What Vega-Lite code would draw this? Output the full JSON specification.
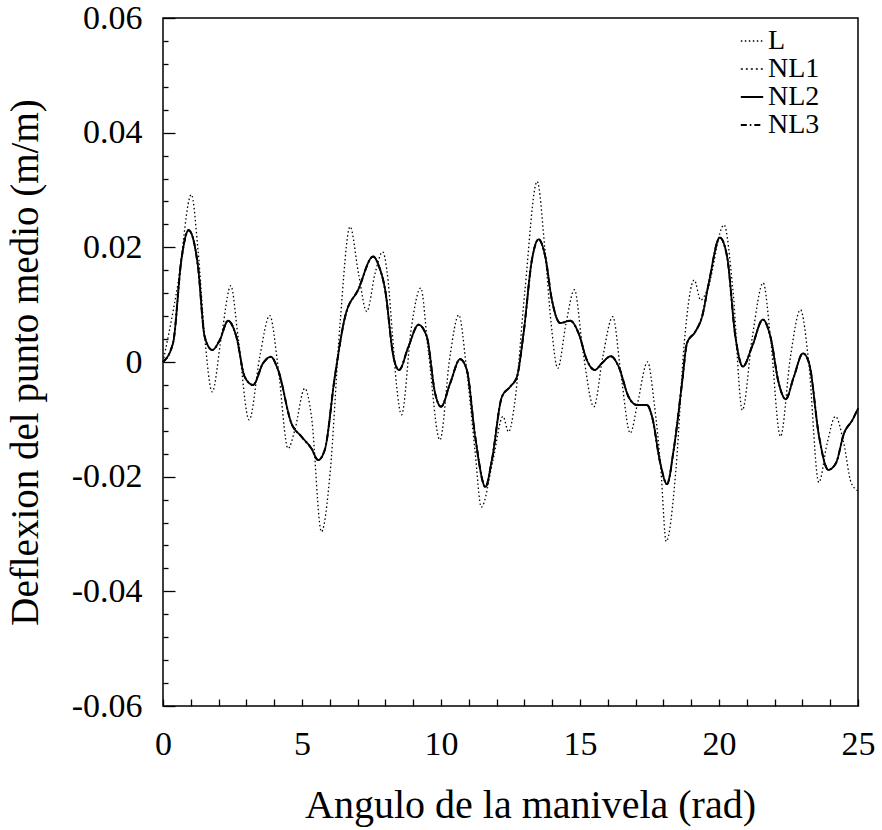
{
  "$schema": "https://vega.github.io/schema/vega-lite/v6.json",
  "width": 695,
  "height": 688,
  "autosize": "none",
  "padding": {"left": 163, "top": 18, "right": 24, "bottom": 124},
  "background": "white",
  "config": {
    "view": {"stroke": "black", "strokeWidth": 1.5},
    "font": "Liberation Serif",
    "axis": {"domain": false, "grid": false, "zindex": 1, "tickColor": "black", "tickWidth": 1.3, "labelColor": "black", "titleColor": "black", "titleFontWeight": "normal", "labelFont": "Liberation Serif", "titleFont": "Liberation Serif", "labelOverlap": false, "labelFlush": false}
  },
  "data": {"values": [
    {"s": "L", "x": 0, "y": 0}, {"s": "L", "x": 0.54, "y": 0.0137}, {"s": "L", "x": 1.02, "y": 0.0292}, {"s": "L", "x": 1.26, "y": 0.0195},
    {"s": "L", "x": 1.5, "y": 0.0044}, {"s": "L", "x": 1.77, "y": -0.0052}, {"s": "L", "x": 2.1, "y": 0.0044}, {"s": "L", "x": 2.44, "y": 0.0133},
    {"s": "L", "x": 2.7, "y": 0.0044}, {"s": "L", "x": 3.1, "y": -0.0101}, {"s": "L", "x": 3.48, "y": 0.0009}, {"s": "L", "x": 3.84, "y": 0.0081},
    {"s": "L", "x": 4.14, "y": -0.0008}, {"s": "L", "x": 4.5, "y": -0.0151}, {"s": "L", "x": 4.74, "y": -0.0119}, {"s": "L", "x": 5.1, "y": -0.0046},
    {"s": "L", "x": 5.34, "y": -0.0095}, {"s": "L", "x": 5.7, "y": -0.0296}, {"s": "L", "x": 6.01, "y": -0.0194}, {"s": "L", "x": 6.37, "y": 0.0068},
    {"s": "L", "x": 6.73, "y": 0.0236}, {"s": "L", "x": 7.03, "y": 0.0155}, {"s": "L", "x": 7.33, "y": 0.0088}, {"s": "L", "x": 7.63, "y": 0.0155},
    {"s": "L", "x": 7.9, "y": 0.0192}, {"s": "L", "x": 8.1, "y": 0.014}, {"s": "L", "x": 8.25, "y": 0.005}, {"s": "L", "x": 8.4, "y": -0.004},
    {"s": "L", "x": 8.58, "y": -0.0092}, {"s": "L", "x": 8.94, "y": 0.0062}, {"s": "L", "x": 9.27, "y": 0.0129}, {"s": "L", "x": 9.54, "y": 0.0021},
    {"s": "L", "x": 9.96, "y": -0.0136}, {"s": "L", "x": 10.32, "y": 0.0009}, {"s": "L", "x": 10.64, "y": 0.0082}, {"s": "L", "x": 10.91, "y": -0.0008},
    {"s": "L", "x": 11.22, "y": -0.0153}, {"s": "L", "x": 11.45, "y": -0.0253}, {"s": "L", "x": 11.87, "y": -0.0171}, {"s": "L", "x": 12.23, "y": -0.0095},
    {"s": "L", "x": 12.43, "y": -0.0122}, {"s": "L", "x": 12.65, "y": -0.0072}, {"s": "L", "x": 13.01, "y": 0.012}, {"s": "L", "x": 13.46, "y": 0.0315},
    {"s": "L", "x": 13.73, "y": 0.0201}, {"s": "L", "x": 13.96, "y": 0.0068}, {"s": "L", "x": 14.2, "y": -0.0011}, {"s": "L", "x": 14.5, "y": 0.0068},
    {"s": "L", "x": 14.8, "y": 0.0126}, {"s": "L", "x": 15.1, "y": 0.0021}, {"s": "L", "x": 15.5, "y": -0.0078}, {"s": "L", "x": 15.82, "y": 0.0009},
    {"s": "L", "x": 16.18, "y": 0.0079}, {"s": "L", "x": 16.47, "y": -0.002}, {"s": "L", "x": 16.81, "y": -0.0124}, {"s": "L", "x": 17.07, "y": -0.0072},
    {"s": "L", "x": 17.43, "y": 0.0}, {"s": "L", "x": 17.67, "y": -0.0072}, {"s": "L", "x": 17.91, "y": -0.0188}, {"s": "L", "x": 18.1, "y": -0.0313},
    {"s": "L", "x": 18.45, "y": -0.0188}, {"s": "L", "x": 18.75, "y": 0.0033}, {"s": "L", "x": 19.11, "y": 0.0143}, {"s": "L", "x": 19.34, "y": 0.0108},
    {"s": "L", "x": 19.58, "y": 0.0126}, {"s": "L", "x": 20.18, "y": 0.0239}, {"s": "L", "x": 20.5, "y": 0.0126}, {"s": "L", "x": 20.84, "y": -0.0084},
    {"s": "L", "x": 21.2, "y": 0.0044}, {"s": "L", "x": 21.59, "y": 0.0138}, {"s": "L", "x": 21.85, "y": 0.0044}, {"s": "L", "x": 22.21, "y": -0.013},
    {"s": "L", "x": 22.57, "y": 0.0009}, {"s": "L", "x": 22.93, "y": 0.0091}, {"s": "L", "x": 23.23, "y": -0.0002}, {"s": "L", "x": 23.59, "y": -0.021},
    {"s": "L", "x": 23.89, "y": -0.0142}, {"s": "L", "x": 24.19, "y": -0.0095}, {"s": "L", "x": 24.49, "y": -0.0142}, {"s": "L", "x": 24.75, "y": -0.021},
    {"s": "L", "x": 25, "y": -0.0225},

    {"s": "NL1", "x": 0, "y": 0}, {"s": "NL1", "x": 0.36, "y": 0.0033}, {"s": "NL1", "x": 0.66, "y": 0.0178}, {"s": "NL1", "x": 0.92, "y": 0.023},
    {"s": "NL1", "x": 1.26, "y": 0.0166}, {"s": "NL1", "x": 1.5, "y": 0.0044}, {"s": "NL1", "x": 1.77, "y": 0.0021}, {"s": "NL1", "x": 2.04, "y": 0.0038},
    {"s": "NL1", "x": 2.34, "y": 0.0072}, {"s": "NL1", "x": 2.64, "y": 0.0044}, {"s": "NL1", "x": 2.94, "y": -0.0026}, {"s": "NL1", "x": 3.24, "y": -0.004},
    {"s": "NL1", "x": 3.6, "y": -0.0002}, {"s": "NL1", "x": 3.88, "y": 0.0009}, {"s": "NL1", "x": 4.14, "y": -0.0014}, {"s": "NL1", "x": 4.62, "y": -0.0107},
    {"s": "NL1", "x": 4.98, "y": -0.013}, {"s": "NL1", "x": 5.34, "y": -0.0151}, {"s": "NL1", "x": 5.58, "y": -0.0171}, {"s": "NL1", "x": 5.82, "y": -0.0153},
    {"s": "NL1", "x": 6.18, "y": -0.0026}, {"s": "NL1", "x": 6.55, "y": 0.0079}, {"s": "NL1", "x": 7.02, "y": 0.0126}, {"s": "NL1", "x": 7.56, "y": 0.0184},
    {"s": "NL1", "x": 7.76, "y": 0.0168}, {"s": "NL1", "x": 7.99, "y": 0.0126}, {"s": "NL1", "x": 8.29, "y": 0.0009}, {"s": "NL1", "x": 8.49, "y": -0.0014},
    {"s": "NL1", "x": 8.83, "y": 0.0027}, {"s": "NL1", "x": 9.19, "y": 0.0065}, {"s": "NL1", "x": 9.49, "y": 0.0044}, {"s": "NL1", "x": 9.79, "y": -0.0055},
    {"s": "NL1", "x": 10.0, "y": -0.0078}, {"s": "NL1", "x": 10.33, "y": -0.0037}, {"s": "NL1", "x": 10.69, "y": 0.0005}, {"s": "NL1", "x": 10.93, "y": -0.0014},
    {"s": "NL1", "x": 11.23, "y": -0.013}, {"s": "NL1", "x": 11.6, "y": -0.0218}, {"s": "NL1", "x": 11.83, "y": -0.0171}, {"s": "NL1", "x": 12.19, "y": -0.0061},
    {"s": "NL1", "x": 12.49, "y": -0.0043}, {"s": "NL1", "x": 12.73, "y": -0.0026}, {"s": "NL1", "x": 12.97, "y": 0.005}, {"s": "NL1", "x": 13.27, "y": 0.0178},
    {"s": "NL1", "x": 13.51, "y": 0.0214}, {"s": "NL1", "x": 13.75, "y": 0.0184}, {"s": "NL1", "x": 13.99, "y": 0.0108}, {"s": "NL1", "x": 14.29, "y": 0.0068},
    {"s": "NL1", "x": 14.65, "y": 0.0072}, {"s": "NL1", "x": 14.95, "y": 0.005}, {"s": "NL1", "x": 15.25, "y": 0.0003}, {"s": "NL1", "x": 15.53, "y": -0.0014},
    {"s": "NL1", "x": 15.79, "y": -0.0002}, {"s": "NL1", "x": 16.11, "y": 0.001}, {"s": "NL1", "x": 16.39, "y": -0.0008}, {"s": "NL1", "x": 16.75, "y": -0.0061},
    {"s": "NL1", "x": 17.05, "y": -0.0075}, {"s": "NL1", "x": 17.41, "y": -0.0075}, {"s": "NL1", "x": 17.59, "y": -0.0095}, {"s": "NL1", "x": 17.89, "y": -0.0177},
    {"s": "NL1", "x": 18.13, "y": -0.0213}, {"s": "NL1", "x": 18.37, "y": -0.0153}, {"s": "NL1", "x": 18.67, "y": -0.0037}, {"s": "NL1", "x": 18.85, "y": 0.0033},
    {"s": "NL1", "x": 19.15, "y": 0.0053}, {"s": "NL1", "x": 19.39, "y": 0.0079}, {"s": "NL1", "x": 19.63, "y": 0.0137}, {"s": "NL1", "x": 20.03, "y": 0.0217},
    {"s": "NL1", "x": 20.29, "y": 0.0184}, {"s": "NL1", "x": 20.59, "y": 0.0044}, {"s": "NL1", "x": 20.86, "y": -0.0008}, {"s": "NL1", "x": 21.19, "y": 0.0027},
    {"s": "NL1", "x": 21.58, "y": 0.0074}, {"s": "NL1", "x": 21.85, "y": 0.0044}, {"s": "NL1", "x": 22.15, "y": -0.0037}, {"s": "NL1", "x": 22.4, "y": -0.0065},
    {"s": "NL1", "x": 22.69, "y": -0.0026}, {"s": "NL1", "x": 23.02, "y": 0.0015}, {"s": "NL1", "x": 23.24, "y": -0.0002}, {"s": "NL1", "x": 23.6, "y": -0.013},
    {"s": "NL1", "x": 23.93, "y": -0.0188}, {"s": "NL1", "x": 24.2, "y": -0.0177}, {"s": "NL1", "x": 24.5, "y": -0.0124}, {"s": "NL1", "x": 24.8, "y": -0.0101},
    {"s": "NL1", "x": 25, "y": -0.0081},

    {"s": "NL3", "x": 0, "y": 0}, {"s": "NL3", "x": 0.36, "y": 0.0033}, {"s": "NL3", "x": 0.66, "y": 0.0178}, {"s": "NL3", "x": 0.92, "y": 0.023},
    {"s": "NL3", "x": 1.26, "y": 0.0166}, {"s": "NL3", "x": 1.5, "y": 0.0044}, {"s": "NL3", "x": 1.77, "y": 0.0021}, {"s": "NL3", "x": 2.04, "y": 0.0038},
    {"s": "NL3", "x": 2.34, "y": 0.0072}, {"s": "NL3", "x": 2.64, "y": 0.0044}, {"s": "NL3", "x": 2.94, "y": -0.0026}, {"s": "NL3", "x": 3.24, "y": -0.004},
    {"s": "NL3", "x": 3.6, "y": -0.0002}, {"s": "NL3", "x": 3.88, "y": 0.0009}, {"s": "NL3", "x": 4.14, "y": -0.0014}, {"s": "NL3", "x": 4.62, "y": -0.0107},
    {"s": "NL3", "x": 4.98, "y": -0.013}, {"s": "NL3", "x": 5.34, "y": -0.0151}, {"s": "NL3", "x": 5.58, "y": -0.0171}, {"s": "NL3", "x": 5.82, "y": -0.0153},
    {"s": "NL3", "x": 6.18, "y": -0.0026}, {"s": "NL3", "x": 6.55, "y": 0.0079}, {"s": "NL3", "x": 7.02, "y": 0.0126}, {"s": "NL3", "x": 7.56, "y": 0.0184},
    {"s": "NL3", "x": 7.76, "y": 0.0168}, {"s": "NL3", "x": 7.99, "y": 0.0126}, {"s": "NL3", "x": 8.29, "y": 0.0009}, {"s": "NL3", "x": 8.49, "y": -0.0014},
    {"s": "NL3", "x": 8.83, "y": 0.0027}, {"s": "NL3", "x": 9.19, "y": 0.0065}, {"s": "NL3", "x": 9.49, "y": 0.0044}, {"s": "NL3", "x": 9.79, "y": -0.0055},
    {"s": "NL3", "x": 10.0, "y": -0.0078}, {"s": "NL3", "x": 10.33, "y": -0.0037}, {"s": "NL3", "x": 10.69, "y": 0.0005}, {"s": "NL3", "x": 10.93, "y": -0.0014},
    {"s": "NL3", "x": 11.23, "y": -0.013}, {"s": "NL3", "x": 11.6, "y": -0.0218}, {"s": "NL3", "x": 11.83, "y": -0.0171}, {"s": "NL3", "x": 12.19, "y": -0.0061},
    {"s": "NL3", "x": 12.49, "y": -0.0043}, {"s": "NL3", "x": 12.73, "y": -0.0026}, {"s": "NL3", "x": 12.97, "y": 0.005}, {"s": "NL3", "x": 13.27, "y": 0.0178},
    {"s": "NL3", "x": 13.51, "y": 0.0214}, {"s": "NL3", "x": 13.75, "y": 0.0184}, {"s": "NL3", "x": 13.99, "y": 0.0108}, {"s": "NL3", "x": 14.29, "y": 0.0068},
    {"s": "NL3", "x": 14.65, "y": 0.0072}, {"s": "NL3", "x": 14.95, "y": 0.005}, {"s": "NL3", "x": 15.25, "y": 0.0003}, {"s": "NL3", "x": 15.53, "y": -0.0014},
    {"s": "NL3", "x": 15.79, "y": -0.0002}, {"s": "NL3", "x": 16.11, "y": 0.001}, {"s": "NL3", "x": 16.39, "y": -0.0008}, {"s": "NL3", "x": 16.75, "y": -0.0061},
    {"s": "NL3", "x": 17.05, "y": -0.0075}, {"s": "NL3", "x": 17.41, "y": -0.0075}, {"s": "NL3", "x": 17.59, "y": -0.0095}, {"s": "NL3", "x": 17.89, "y": -0.0177},
    {"s": "NL3", "x": 18.13, "y": -0.0213}, {"s": "NL3", "x": 18.37, "y": -0.0153}, {"s": "NL3", "x": 18.67, "y": -0.0037}, {"s": "NL3", "x": 18.85, "y": 0.0033},
    {"s": "NL3", "x": 19.15, "y": 0.0053}, {"s": "NL3", "x": 19.39, "y": 0.0079}, {"s": "NL3", "x": 19.63, "y": 0.0137}, {"s": "NL3", "x": 20.03, "y": 0.0217},
    {"s": "NL3", "x": 20.29, "y": 0.0184}, {"s": "NL3", "x": 20.59, "y": 0.0044}, {"s": "NL3", "x": 20.86, "y": -0.0008}, {"s": "NL3", "x": 21.19, "y": 0.0027},
    {"s": "NL3", "x": 21.58, "y": 0.0074}, {"s": "NL3", "x": 21.85, "y": 0.0044}, {"s": "NL3", "x": 22.15, "y": -0.0037}, {"s": "NL3", "x": 22.4, "y": -0.0065},
    {"s": "NL3", "x": 22.69, "y": -0.0026}, {"s": "NL3", "x": 23.02, "y": 0.0015}, {"s": "NL3", "x": 23.24, "y": -0.0002}, {"s": "NL3", "x": 23.6, "y": -0.013},
    {"s": "NL3", "x": 23.93, "y": -0.0188}, {"s": "NL3", "x": 24.2, "y": -0.0177}, {"s": "NL3", "x": 24.5, "y": -0.0124}, {"s": "NL3", "x": 24.8, "y": -0.0101},
    {"s": "NL3", "x": 25, "y": -0.0081},

    {"s": "NL2", "x": 0, "y": 0}, {"s": "NL2", "x": 0.36, "y": 0.0033}, {"s": "NL2", "x": 0.66, "y": 0.0178}, {"s": "NL2", "x": 0.92, "y": 0.023},
    {"s": "NL2", "x": 1.26, "y": 0.0166}, {"s": "NL2", "x": 1.5, "y": 0.0044}, {"s": "NL2", "x": 1.77, "y": 0.0021}, {"s": "NL2", "x": 2.04, "y": 0.0038},
    {"s": "NL2", "x": 2.34, "y": 0.0072}, {"s": "NL2", "x": 2.64, "y": 0.0044}, {"s": "NL2", "x": 2.94, "y": -0.0026}, {"s": "NL2", "x": 3.24, "y": -0.004},
    {"s": "NL2", "x": 3.6, "y": -0.0002}, {"s": "NL2", "x": 3.88, "y": 0.0009}, {"s": "NL2", "x": 4.14, "y": -0.0014}, {"s": "NL2", "x": 4.62, "y": -0.0107},
    {"s": "NL2", "x": 4.98, "y": -0.013}, {"s": "NL2", "x": 5.34, "y": -0.0151}, {"s": "NL2", "x": 5.58, "y": -0.0171}, {"s": "NL2", "x": 5.82, "y": -0.0153},
    {"s": "NL2", "x": 6.18, "y": -0.0026}, {"s": "NL2", "x": 6.55, "y": 0.0079}, {"s": "NL2", "x": 7.02, "y": 0.0126}, {"s": "NL2", "x": 7.56, "y": 0.0184},
    {"s": "NL2", "x": 7.76, "y": 0.0168}, {"s": "NL2", "x": 7.99, "y": 0.0126}, {"s": "NL2", "x": 8.29, "y": 0.0009}, {"s": "NL2", "x": 8.49, "y": -0.0014},
    {"s": "NL2", "x": 8.83, "y": 0.0027}, {"s": "NL2", "x": 9.19, "y": 0.0065}, {"s": "NL2", "x": 9.49, "y": 0.0044}, {"s": "NL2", "x": 9.79, "y": -0.0055},
    {"s": "NL2", "x": 10.0, "y": -0.0078}, {"s": "NL2", "x": 10.33, "y": -0.0037}, {"s": "NL2", "x": 10.69, "y": 0.0005}, {"s": "NL2", "x": 10.93, "y": -0.0014},
    {"s": "NL2", "x": 11.23, "y": -0.013}, {"s": "NL2", "x": 11.6, "y": -0.0218}, {"s": "NL2", "x": 11.83, "y": -0.0171}, {"s": "NL2", "x": 12.19, "y": -0.0061},
    {"s": "NL2", "x": 12.49, "y": -0.0043}, {"s": "NL2", "x": 12.73, "y": -0.0026}, {"s": "NL2", "x": 12.97, "y": 0.005}, {"s": "NL2", "x": 13.27, "y": 0.0178},
    {"s": "NL2", "x": 13.51, "y": 0.0214}, {"s": "NL2", "x": 13.75, "y": 0.0184}, {"s": "NL2", "x": 13.99, "y": 0.0108}, {"s": "NL2", "x": 14.29, "y": 0.0068},
    {"s": "NL2", "x": 14.65, "y": 0.0072}, {"s": "NL2", "x": 14.95, "y": 0.005}, {"s": "NL2", "x": 15.25, "y": 0.0003}, {"s": "NL2", "x": 15.53, "y": -0.0014},
    {"s": "NL2", "x": 15.79, "y": -0.0002}, {"s": "NL2", "x": 16.11, "y": 0.001}, {"s": "NL2", "x": 16.39, "y": -0.0008}, {"s": "NL2", "x": 16.75, "y": -0.0061},
    {"s": "NL2", "x": 17.05, "y": -0.0075}, {"s": "NL2", "x": 17.41, "y": -0.0075}, {"s": "NL2", "x": 17.59, "y": -0.0095}, {"s": "NL2", "x": 17.89, "y": -0.0177},
    {"s": "NL2", "x": 18.13, "y": -0.0213}, {"s": "NL2", "x": 18.37, "y": -0.0153}, {"s": "NL2", "x": 18.67, "y": -0.0037}, {"s": "NL2", "x": 18.85, "y": 0.0033},
    {"s": "NL2", "x": 19.15, "y": 0.0053}, {"s": "NL2", "x": 19.39, "y": 0.0079}, {"s": "NL2", "x": 19.63, "y": 0.0137}, {"s": "NL2", "x": 20.03, "y": 0.0217},
    {"s": "NL2", "x": 20.29, "y": 0.0184}, {"s": "NL2", "x": 20.59, "y": 0.0044}, {"s": "NL2", "x": 20.86, "y": -0.0008}, {"s": "NL2", "x": 21.19, "y": 0.0027},
    {"s": "NL2", "x": 21.58, "y": 0.0074}, {"s": "NL2", "x": 21.85, "y": 0.0044}, {"s": "NL2", "x": 22.15, "y": -0.0037}, {"s": "NL2", "x": 22.4, "y": -0.0065},
    {"s": "NL2", "x": 22.69, "y": -0.0026}, {"s": "NL2", "x": 23.02, "y": 0.0015}, {"s": "NL2", "x": 23.24, "y": -0.0002}, {"s": "NL2", "x": 23.6, "y": -0.013},
    {"s": "NL2", "x": 23.93, "y": -0.0188}, {"s": "NL2", "x": 24.2, "y": -0.0177}, {"s": "NL2", "x": 24.5, "y": -0.0124}, {"s": "NL2", "x": 24.8, "y": -0.0101},
    {"s": "NL2", "x": 25, "y": -0.0081}
  ]},
  "mark": {"type": "line", "interpolate": "monotone", "color": "black"},
  "encoding": {
    "x": {
      "field": "x", "type": "quantitative",
      "scale": {"domain": [0, 25], "nice": false, "zero": false},
      "axis": {
        "title": "Angulo de la manivela (rad)",
        "values": [0,1,2,3,4,5,6,7,8,9,10,11,12,13,14,15,16,17,18,19,20,21,22,23,24,25],
        "labelExpr": "datum.value % 5 == 0 ? datum.label : ''",
        "tickSize": -7,
        "labelFontSize": 34,
        "labelPadding": 28,
        "titleFontSize": 40,
        "titleX": 367,
        "titleY": 99,
        "titleAlign": "center",
        "titleBaseline": "middle"
      }
    },
    "y": {
      "field": "y", "type": "quantitative",
      "scale": {"domain": [-0.06, 0.06], "nice": false, "zero": false},
      "axis": {
        "title": "Deflexion del punto medio (m/m)",
        "values": [-0.06,-0.056,-0.052,-0.048,-0.044,-0.04,-0.036,-0.032,-0.028,-0.024,-0.02,-0.016,-0.012,-0.008,-0.004,0,0.004,0.008,0.012,0.016,0.02,0.024,0.028,0.032,0.036,0.04,0.044,0.048,0.052,0.056,0.06],
        "labelExpr": "abs(round(datum.value*1000)) % 20 == 0 ? (datum.value == 0 ? '0' : (datum.value < 0 ? '-' : '') + format(abs(datum.value), '.2f')) : ''",
        "tickSize": {"condition": {"test": "abs(round(datum.value*1000)) % 20 == 0", "value": -12}, "value": -5},
        "labelFontSize": 34,
        "labelPadding": 33,
        "titleFontSize": 39,
        "titleX": -138,
        "titleY": 344,
        "titleAngle": 270,
        "titleAlign": "center",
        "titleBaseline": "middle"
      }
    },
    "strokeDash": {
      "field": "s", "type": "nominal",
      "scale": {"domain": ["L", "NL1", "NL2", "NL3"], "range": [[1.5, 2.5], [2, 3], [1, 0], [6, 3, 1.5, 3]]},
      "legend": {
        "orient": "none", "legendX": 575, "legendY": 10, "title": null, "padding": 0,
        "symbolType": "stroke", "symbolSize": 500, "symbolStrokeWidth": 1.6, "symbolStrokeColor": "black",
        "labelFont": "Liberation Serif", "labelFontSize": 28, "labelColor": "black",
        "clipHeight": 26, "rowPadding": 0, "labelOffset": 2
      }
    },
    "strokeWidth": {
      "field": "s", "type": "nominal",
      "scale": {"domain": ["L", "NL1", "NL2", "NL3"], "range": [1.3, 2, 2.2, 2]},
      "legend": null
    }
  }
}
